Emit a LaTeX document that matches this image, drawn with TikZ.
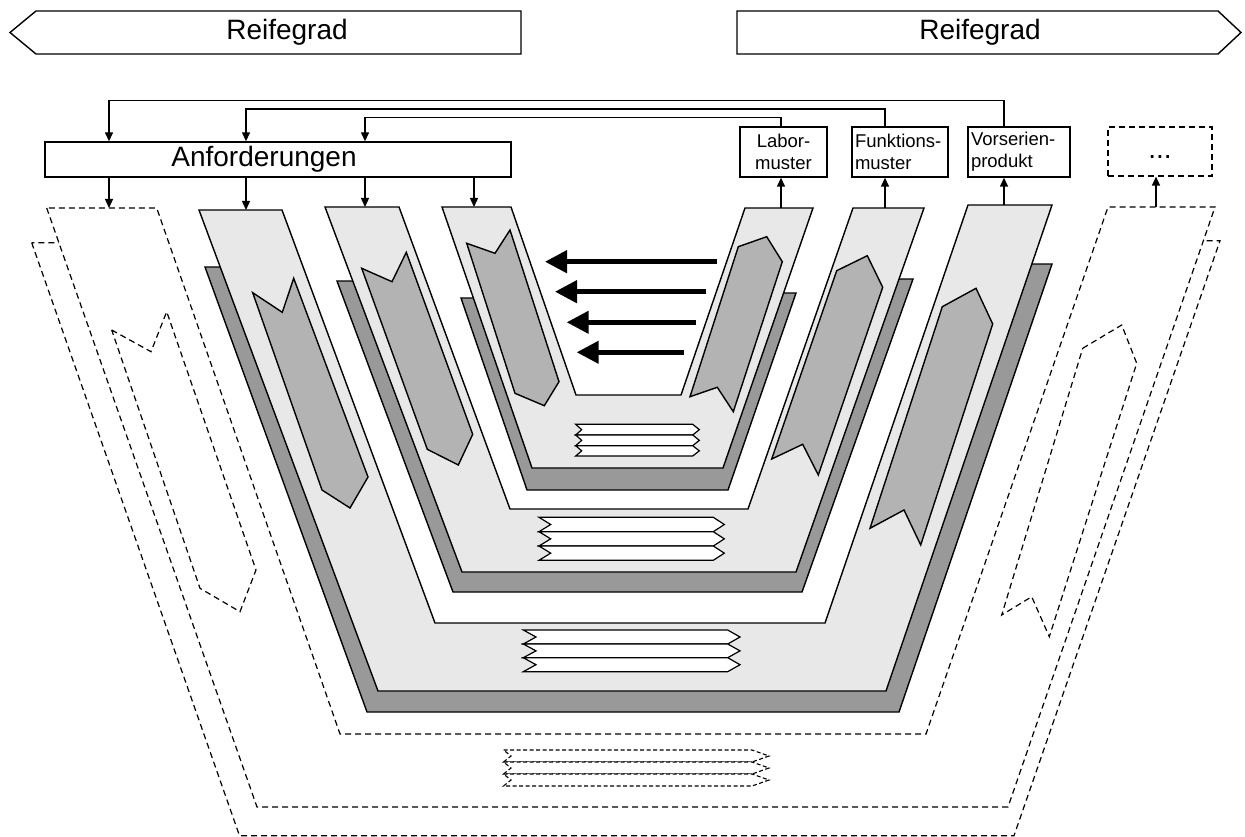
\documentclass[tikz,border=0pt]{standalone}
\usepackage{fontspec}
\setmainfont{Liberation Sans}
\usetikzlibrary{arrows.meta}
\definecolor{bandlight}{HTML}{E8E8E8}
\definecolor{banddark}{HTML}{999999}
\definecolor{bannergray}{HTML}{B3B3B3}
\tikzset{
  outline/.style={draw=black, line width=1.4pt, line join=miter},
  lightband/.style={outline, fill=bandlight},
  darkband/.style={outline, fill=banddark},
  banner/.style={outline, fill=bannergray},
  chevstrip/.style={draw=black, line width=1.2pt, fill=white},
  dashline/.style={draw=black, line width=1.2pt, dash pattern=on 6pt off 4pt},
  dashedshape/.style={dashline, fill=white},
  dashstrip/.style={draw=black, line width=1.1pt, dash pattern=on 4pt off 2.5pt, fill=white},
  feed/.style={draw=black, line width=1.4pt, -{Triangle[length=9pt,width=8pt]}},
  bigarrow/.style={draw=black, line width=4.5pt, -{Triangle[length=22pt,width=22pt]}},
  labelbox/.style={draw=black, line width=1.4pt, fill=white, minimum height=50pt,
    inner ysep=0pt, inner xsep=3pt, font=\fontsize{18.5}{22}\selectfont},
  bigtext/.style={font=\fontsize{28}{33}\selectfont, inner sep=0pt},
}
% one row of a chevron stack: style, left x, notch x, base x, tip x, top y, bottom y
\newcommand\chevrow[7]{%
  \path[#1] (#2,#6) -- (#4,#6) -- (#5,{(#6+#7)/2}) -- (#4,#7) -- (#2,#7)
    -- (#3,{(#6+#7)/2}) -- cycle;}
\begin{document}
\begin{tikzpicture}[x=1pt,y=-1pt]
\useasboundingbox (0,0) rectangle (1245,837);

% ---------- maturity arrows ----------
\path[outline, fill=white] (10,32.5) -- (36,11) -- (521,11) -- (521,54) -- (36,54) -- cycle;
\node[bigtext] (reifeL) at (287,32.5) {Reifegrad};
\path[outline, fill=white] (737,11) -- (1218,11) -- (1241,32.5) -- (1218,54) -- (737,54) -- cycle;
\node[bigtext] (reifeR) at (980,32.5) {Reifegrad};

% ---------- outer dashed stage ----------
\path[dashedshape] (31.7,242.7) -- (239.5,835.7) -- (1014,835.7) -- (1220,240.7)
  -- (1150,240.7) -- (967,770.5) -- (298.5,770.5) -- (113.7,242.7) -- cycle;
\path[dashedshape] (46.7,208) -- (257,807) -- (1008,807) -- (1215,207) -- (1108,207)
  -- (926,734) -- (340,734) -- (156.7,208) -- cycle;
\path[dashline] (111.7,330) -- (151,351.7) -- (166.7,311.7) -- (256,570) -- (240,611.7)
  -- (200,588.3) -- cycle;
\path[dashline] (1082.7,348.3) -- (1121.7,325) -- (1136.7,363.3) -- (1049.3,636.7)
  -- (1031.7,596.7) -- (1001.7,615) -- cycle;
\chevrow{dashstrip}{503.5}{511}{752}{769}{750}{762}
\chevrow{dashstrip}{503.5}{511}{752}{769}{762}{774}
\chevrow{dashstrip}{503.5}{511}{752}{769}{774}{786}

% ---------- stage 1 (Vorserienprodukt) ----------
\path[darkband] (205,267) -- (367,712) -- (899,712) -- (1052,264) -- (990,264)
  -- (855.5,657) -- (406.5,657) -- (261.7,267) -- cycle;
\path[lightband] (199,210) -- (378,691) -- (886,691) -- (1052,205) -- (968,205)
  -- (825,623) -- (435,623) -- (282,210) -- cycle;
\path[banner] (252.7,292.7) -- (282.3,312.3) -- (293.7,278.3) -- (368,477)
  -- (350,508) -- (322,490) -- cycle;
\path[banner] (942.3,306.7) -- (976,288.3) -- (992.7,324) -- (920.7,545)
  -- (904,510) -- (870,528.3) -- cycle;
\chevrow{chevstrip}{523.3}{536}{727.7}{740}{630}{644}
\chevrow{chevstrip}{523.3}{536}{727.7}{740}{644}{657.7}
\chevrow{chevstrip}{523.3}{536}{727.7}{740}{657.7}{671.7}

% ---------- stage 2 (Funktionsmuster) ----------
\path[darkband] (337,281) -- (453,592) -- (802,592) -- (913,279) -- (863.5,279)
  -- (772,540.5) -- (486,540.5) -- (389.4,281) -- cycle;
\path[lightband] (325,207) -- (462,572) -- (796,572) -- (924,208) -- (853,208)
  -- (748,509) -- (510,509) -- (399,207) -- cycle;
\path[banner] (361.7,268.3) -- (392,281.7) -- (406.3,252.3) -- (472.7,434.3)
  -- (458.3,465) -- (427.3,449.3) -- cycle;
\path[banner] (836.7,270.7) -- (867.3,255.7) -- (882.7,287.3) -- (818.3,475)
  -- (802.7,444.3) -- (771.7,459) -- cycle;
\chevrow{chevstrip}{539}{550.7}{713.3}{724.3}{517.3}{531.7}
\chevrow{chevstrip}{539}{550.7}{713.3}{724.3}{531.7}{546}
\chevrow{chevstrip}{539}{550.7}{713.3}{724.3}{546}{560.3}

% ---------- stage 3 (Labormuster) ----------
\path[darkband] (461,298) -- (527,490) -- (728,490) -- (796,293) -- (749.7,293)
  -- (702,431.5) -- (554,431.5) -- (507.9,298) -- cycle;
\path[lightband] (442,207) -- (532,468) -- (723,468) -- (813,208) -- (745,208)
  -- (681,395) -- (576,395) -- (511,207) -- cycle;
\path[banner] (466.7,243.3) -- (495,253.3) -- (510,230) -- (559,381.7)
  -- (544.3,405.7) -- (515,393.3) -- cycle;
\path[banner] (738.3,246.7) -- (766.7,236.7) -- (782.3,261.7) -- (733.3,411.7)
  -- (717.3,387.3) -- (690,396.7) -- cycle;
\chevrow{chevstrip}{575.7}{581.7}{692.7}{699.3}{424.3}{435}
\chevrow{chevstrip}{575.7}{581.7}{692.7}{699.3}{435}{445.7}
\chevrow{chevstrip}{575.7}{581.7}{692.7}{699.3}{445.7}{456}

% ---------- transfer arrows inside the innermost stage ----------
\coordinate (t1a) at (716.7,261.7); \coordinate (t1b) at (545,261.7);
\coordinate (t2a) at (706,291.7);   \coordinate (t2b) at (555,291.7);
\coordinate (t3a) at (696,322.3);   \coordinate (t3b) at (566.7,322.3);
\coordinate (t4a) at (684,352.3);   \coordinate (t4b) at (576.7,352.3);
\draw[bigarrow] (t1a) -- (t1b);
\draw[bigarrow] (t2a) -- (t2b);
\draw[bigarrow] (t3a) -- (t3b);
\draw[bigarrow] (t4a) -- (t4b);

% ---------- requirement and result boxes ----------
\node[draw=black, line width=1.4pt, fill=white, minimum width=466pt, minimum height=35pt,
  inner sep=0pt] (anf) at (278,159.5) {};
\node[bigtext] (anftext) at (264,159.5) {Anforderungen};
\node[labelbox, minimum width=87pt, align=center] (lab) at (783.5,152) {Labor-\\muster};
\node[labelbox, text width=90pt, align=left] (fkt) at (900,152) {Funktions-\\muster};
\node[labelbox, text width=96pt, align=left] (vor) at (1019,152) {Vorserien-\\produkt};
\node[labelbox, dashline, minimum width=104pt, minimum height=49pt,
  font=\fontsize{28}{33}\selectfont] (etc) at (1160,151.5) {\strut...};

% ---------- stage tops ----------
\coordinate (s4l) at (109,208);   \coordinate (s1l) at (246,210);
\coordinate (s2l) at (365,207);   \coordinate (s3l) at (474,207);
\coordinate (s3r) at (781,208);   \coordinate (s2r) at (885,208);
\coordinate (s1r) at (1004,205);  \coordinate (s4r) at (1156,207);

% requirements flow down into the stages
\draw[feed] (anf.south -| s4l) -- (s4l);
\draw[feed] (anf.south -| s1l) -- (s1l);
\draw[feed] (anf.south -| s2l) -- (s2l);
\draw[feed] (anf.south -| s3l) -- (s3l);

% results flow up out of the stages
\draw[feed] (s3r) -- (lab.south -| s3r);
\draw[feed] (s2r) -- (fkt.south -| s2r);
\draw[feed] (s1r) -- (vor.south -| s1r);
\draw[feed] (s4r) -- (etc.south -| s4r);

% feedback of results into the requirements
\coordinate (f1a) at (1004,100.7); \coordinate (f1b) at (109,100.7);
\coordinate (f2a) at (885,109);    \coordinate (f2b) at (246,109);
\coordinate (f3a) at (781,117.7);  \coordinate (f3b) at (365,117.7);
\draw[feed] (vor.north -| f1a) -- (f1a) -- (f1b) -- (anf.north -| f1b);
\draw[feed] (fkt.north -| f2a) -- (f2a) -- (f2b) -- (anf.north -| f2b);
\draw[feed] (lab.north -| f3a) -- (f3a) -- (f3b) -- (anf.north -| f3b);
\end{tikzpicture}
\end{document}
